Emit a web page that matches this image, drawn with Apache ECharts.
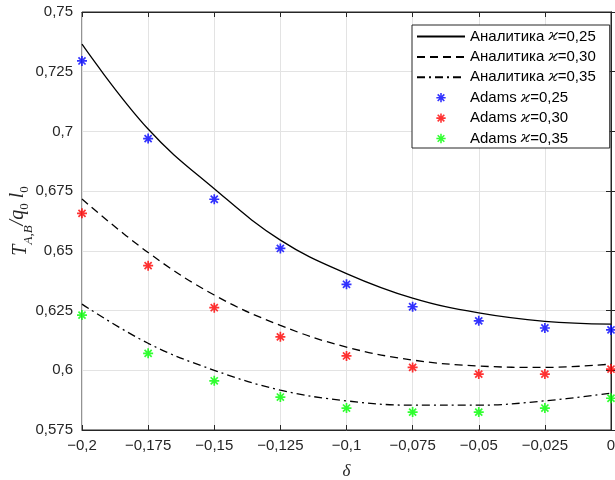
<!DOCTYPE html>
<html>
<head>
<meta charset="utf-8">
<script src="https://cdn.jsdelivr.net/npm/echarts@6/dist/echarts.min.js"></script>
<style>html,body{margin:0;padding:0;background:#fff}#c{width:615px;height:480px}</style>
</head>
<body>
<div id="c"></div>
<script>
// ---- data ----
const deltas = [-0.2, -0.175, -0.15, -0.125, -0.1, -0.075, -0.05, -0.025, 0];
const xTicks = [-0.2, -0.175, -0.15, -0.125, -0.1, -0.075, -0.05, -0.025, 0];
const yTicks = [0.575, 0.6, 0.625, 0.65, 0.675, 0.7, 0.725, 0.75];
const analytic025 = [0.7365, 0.701, 0.676, 0.6545, 0.6405, 0.6302, 0.624, 0.6205, 0.6193];
const analytic030 = [0.6717, 0.6493, 0.6315, 0.6188, 0.6097, 0.6043, 0.6018, 0.6012, 0.6026];
const analytic035 = [0.6277, 0.6113, 0.600, 0.5917, 0.5872, 0.5854, 0.5854, 0.5872, 0.5904];
const adams025 = [0.7295, 0.697, 0.6716, 0.651, 0.636, 0.6266, 0.6207, 0.6177, 0.6169];
const adams030 = [0.6657, 0.6438, 0.6262, 0.614, 0.606, 0.6012, 0.5984, 0.5984, 0.6005];
const adams035 = [0.6231, 0.6071, 0.5956, 0.5888, 0.5842, 0.5825, 0.5825, 0.5842, 0.5883];
const names = ['Аналитика ϰ=0,25', 'Аналитика ϰ=0,30', 'Аналитика ϰ=0,35',
               'Adams ϰ=0,25', 'Adams ϰ=0,30', 'Adams ϰ=0,35'];

const pairs = ys => deltas.map((x, i) => [x, ys[i]]);
const fmt = v => String(+(+v).toFixed(4)).replace('-', '\u2212').replace('.', ',');

const w = 0.85;
const star = 'M-5,-' + w + 'L5,-' + w + 'L5,' + w + 'L-5,' + w + 'Z' +
  'M-' + w + ',-5L' + w + ',-5L' + w + ',5L-' + w + ',5Z' +
  'M-2.95,-4.15L4.15,2.95L2.95,4.15L-4.15,-2.95Z' +
  'M4.15,-2.95L-2.95,4.15L-4.15,2.95L2.95,-4.15Z';
const starPath = 'path://' + star;
const legendStar = 'path://' + star + 'M-7.5,-7.5L-7.49,-7.5L-7.5,-7.49Z M7.5,7.5L7.49,7.5L7.5,7.49Z';

const FONT = 'Liberation Sans, Arial, sans-serif';
const SERIF = 'Liberation Serif, Times New Roman, serif';
const AX = '#262626';
const GRIDC = '#e3e3e3';

const lineSeries = (name, ys, type) => ({
  name, type: 'line', data: pairs(ys), smooth: 0.4,
  symbol: 'none', showSymbol: false,
  lineStyle: { color: '#000', width: 1.3, type }, itemStyle: { color: '#000' },
  z: 3
});
const scatterSeries = (name, ys, color) => ({
  name, type: 'scatter', data: pairs(ys), symbol: starPath, symbolSize: 10,
  itemStyle: { color }, clip: false, z: 4
});

const sub = { fontFamily: SERIF, fontStyle: 'italic', fontSize: 13, color: AX, verticalAlign: 'bottom' };
const big = { fontFamily: SERIF, fontStyle: 'italic', fontSize: 20, color: AX, verticalAlign: 'bottom' };

const chart = echarts.init(document.getElementById('c'), null, { renderer: 'canvas' });
chart.setOption({
  animation: false,
  backgroundColor: '#fff',
  grid: { left: 82, right: 4, top: 12, bottom: 50, outerBoundsMode: 'none', containLabel: false,
    show: true, borderColor: AX, borderWidth: 1, backgroundColor: 'transparent' },
  legend: {
    orient: 'vertical', left: 412, top: 25,
    padding: [4, 14, 2, 4], itemGap: 5.4, itemWidth: 48, itemHeight: 14,
    borderColor: AX, borderWidth: 1, backgroundColor: '#fff',
    data: names.map((n, i) => i < 3
      ? { name: n, itemStyle: { color: 'rgba(0,0,0,0)', opacity: 0, borderWidth: 0 } }
      : { name: n, icon: legendStar }),
    formatter: n => n.replace('ϰ', '{k|ϰ}'),
    textStyle: { fontFamily: FONT, fontSize: 15, lineHeight: 14, color: '#000',
      rich: { k: { fontFamily: 'DejaVu Serif, serif', fontStyle: 'italic', fontSize: 15, lineHeight: 14, color: '#000' } } },
    itemStyle: { borderWidth: 0 }
  },
  xAxis: [{
    type: 'value', min: -0.2, max: 0, interval: 0.025,
    name: 'δ', nameLocation: 'middle', nameGap: 33, nameMoveOverlap: false,
    nameTextStyle: { fontFamily: SERIF, fontStyle: 'italic', fontSize: 17, color: AX },
    axisLine: { show: true, lineStyle: { color: AX } },
    axisTick: { show: true, inside: true, length: 5, lineStyle: { color: AX } },
    axisLabel: { fontFamily: FONT, fontSize: 15, color: AX, margin: 8, formatter: fmt },
    splitLine: { show: true, lineStyle: { color: GRIDC } }
  }, {
    type: 'value', min: -0.2, max: 0, interval: 0.025, position: 'top',
    axisLine: { show: true, lineStyle: { color: AX } },
    axisTick: { show: true, inside: true, length: 5, lineStyle: { color: AX } },
    axisLabel: { show: false }, splitLine: { show: false }
  }],
  yAxis: [{
    type: 'value', min: 0.575, max: 0.75, interval: 0.025,
    name: '{t|T}{s|A,B}{p|/q}{s2|0}{p| l}{s2|0}', nameLocation: 'middle', nameRotate: 90,
    nameGap: 47, nameMoveOverlap: false,
    nameTextStyle: {
      color: AX,
      rich: {
        t: Object.assign({}, big, { padding: [0, 0, 4, 0] }),
        s: Object.assign({}, sub, { padding: [0, 0, 0, 0] }),
        p: Object.assign({}, big, { padding: [0, 0, 7, 0] }),
        s2: Object.assign({}, sub, { fontStyle: 'normal', padding: [0, 0, 4, 0] })
      }
    },
    axisLine: { show: true, lineStyle: { color: AX } },
    axisTick: { show: true, inside: true, length: 5, lineStyle: { color: AX } },
    axisLabel: { fontFamily: FONT, fontSize: 15, color: AX, margin: 9, formatter: fmt },
    splitLine: { show: true, lineStyle: { color: GRIDC } }
  }, {
    type: 'value', min: 0.575, max: 0.75, interval: 0.025, position: 'right',
    axisLine: { show: true, lineStyle: { color: AX } },
    axisTick: { show: true, inside: true, length: 5, lineStyle: { color: AX } },
    axisLabel: { show: false }, splitLine: { show: false }
  }],
  series: [
    lineSeries(names[0], analytic025, 'solid'),
    lineSeries(names[1], analytic030, [8, 5]),
    lineSeries(names[2], analytic035, [8, 4, 2, 4]),
    scatterSeries(names[3], adams025, '#0000ff'),
    scatterSeries(names[4], adams030, '#ff0000'),
    scatterSeries(names[5], adams035, '#00ff00')
  ]
});
</script>
</body>
</html>
